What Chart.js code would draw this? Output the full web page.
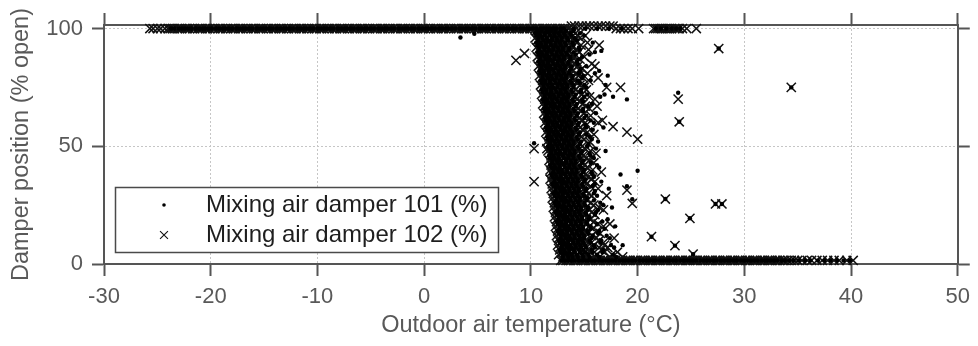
<!DOCTYPE html>
<html>
<head>
<meta charset="utf-8">
<title>Mixing air damper position vs outdoor air temperature</title>
<script src="https://cdn.jsdelivr.net/npm/chart.js@4.4.1/dist/chart.umd.min.js"></script>
<style>
  html, body { margin: 0; padding: 0; background: #fff; }
  #wrap { width: 978px; height: 346px; position: relative; }
</style>
</head>
<body>
<div id="wrap"><canvas id="chart"></canvas></div>
<script>
// ---------------------------------------------------------------------------
// Data: damper position (% open) against outdoor air temperature (°C)
// ---------------------------------------------------------------------------
const SERIES_LABELS = ['Mixing air damper 101 (%)', 'Mixing air damper 102 (%)'];
const X_TICK_RANGE = [-30, 50];
const Y_TICK_VALUES = [0, 50, 100];

// damper positions held for long stretches
const FULLY_OPEN = 100;
const OVER_OPEN = 101;
const MIN_POSITION = 1.5;

// Damper 101 – temperatures while fully open
const open101 = [-23.7,-23.4,-23.0,-22.7,-22.4,-22.1,-21.8,-21.4,-21.1,-20.8,-20.5,-20.2,-19.9,-19.5,-19.2,-18.9,-18.6,-18.3,-18.0,-17.6,-17.3,-17.0,-16.7,-16.4,-16.1,-15.7,-15.4,-15.1,-14.8,-14.5,-14.2,-13.8,-13.5,-13.2,-12.9,-12.6,-12.3,-11.9,-11.6,-11.3,-11.0,-10.7,-10.4,-10.0,-9.7,-9.4,-9.1,-8.8,-8.5,-8.1,-7.8,-7.5,-7.2,-6.9,-6.6,-6.2,-5.9,-5.6,-5.3,-5.0,-4.7,-4.3,-4.0,-3.7,-3.4,-3.1,-2.8,-2.4,-2.1,-1.8,-1.5,-1.2,-0.9,-0.5,-0.2,0.1,0.4,0.7,1.0,1.4,1.7,2.0,2.3,2.6,2.9,3.3,3.6,3.9,4.2,4.5,4.8,5.2,5.5,5.8,6.1,6.4,6.7,7.1,7.4,7.7,8.0,8.3,8.6,9.0,9.3,9.6,9.9,10.2,10.5,10.9,11.2,11.5,11.8,12.1,12.4,12.8,13.1,14.0,15.1,16.2,17.3,18.5,21.7,22.2,22.7,23.2,23.6,24.0];

// Damper 101 – temperatures while at minimum position
const closed101 = [12.9,13.2,13.5,13.8,14.1,14.5,14.8,15.1,15.4,15.7,16.0,16.4,16.7,17.0,17.3,17.6,17.9,18.3,18.6,18.9,19.2,19.5,19.8,20.2,20.5,20.8,21.1,21.4,21.7,22.1,22.4,22.7,23.0,23.3,23.6,24.0,24.3,24.6,24.9,25.2,25.5,25.9,26.2,26.5,26.8,27.1,27.4,27.8,28.1,28.4,28.7,29.0,29.3,29.7,30.0,30.3,30.6,30.9,31.2,31.6,31.9,32.2,32.5,32.8,33.1,33.5,33.8,34.2,34.6,35.1,35.7,36.2,36.9,37.5,38.1,38.7,39.3,39.9];

// Damper 101 – modulating readings, grouped by position: [position, temperatures]
const modulating101 = [
  [99, [10.6,11.0,11.5,11.9,12.3,12.8,13.3,14.0]],
  [98, [10.4,10.8,11.3,11.7,12.2,12.6,13.1,13.7,14.6]],
  [97, [10.5,10.9,11.3,11.8,12.2,12.7,13.2,13.8,15.0]],
  [96, [10.7,11.1,11.5,12.0,12.4,12.9,13.4,14.1]],
  [95, [10.7,11.2,11.6,12.0,12.5,12.9,13.5,14.3]],
  [94, [10.5,10.9,11.4,11.8,12.3,12.7,13.2,13.9,15.8]],
  [93, [10.6,11.0,11.4,11.9,12.3,12.8,13.3,14.0]],
  [92, [10.8,11.2,11.6,12.1,12.5,13.0,13.6,14.5]],
  [91, [10.8,11.3,11.7,12.1,12.6,13.0,13.6,14.6]],
  [90, [10.6,11.0,11.5,11.9,12.4,12.8,13.3,14.0,16.0]],
  [89, [10.7,11.1,11.5,12.0,12.4,12.9,13.4,14.2,15.5]],
  [88, [10.9,11.3,11.7,12.2,12.6,13.1,13.7,14.8]],
  [87, [10.9,11.4,11.8,12.2,12.7,13.1,13.7,14.5]],
  [86, [10.7,11.1,11.6,12.0,12.5,12.9,13.5,14.3]],
  [85, [10.8,11.2,11.6,12.1,12.5,13.0,13.5,14.4]],
  [84, [11.0,11.4,11.8,12.3,12.7,13.2,13.8,15.2]],
  [83, [11.0,11.5,11.9,12.3,12.8,13.2,13.8,14.7]],
  [82, [10.8,11.2,11.7,12.1,12.6,13.0,13.6,14.6,16.4]],
  [81, [10.9,11.3,11.7,12.2,12.6,13.1,13.6,14.5,16.0]],
  [80, [11.1,11.5,11.9,12.4,12.8,13.3,13.9,14.9]],
  [79, [11.1,11.6,12.0,12.4,12.9,13.3,13.9,14.8]],
  [78, [10.9,11.3,11.8,12.2,12.7,13.1,13.7,14.4,15.6]],
  [77, [11.0,11.4,11.8,12.3,12.7,13.2,13.8,14.6]],
  [76, [11.2,11.6,12.0,12.5,12.9,13.4,14.0,15.0,17.0]],
  [75, [11.2,11.7,12.1,12.5,13.0,13.4,14.0,15.2]],
  [74, [11.0,11.4,11.9,12.3,12.8,13.2,13.8,14.7]],
  [73, [11.1,11.5,11.9,12.4,12.8,13.3,13.9,14.7]],
  [72, [11.3,11.7,12.1,12.6,13.0,13.5,14.2,15.3,16.9]],
  [71, [11.3,11.8,12.2,12.6,13.1,13.5,14.1,15.0,16.5]],
  [70, [11.1,11.5,12.0,12.4,12.9,13.3,13.9,14.8]],
  [69, [11.2,11.6,12.0,12.5,12.9,13.4,14.0,14.9]],
  [68, [11.4,11.8,12.2,12.7,13.1,13.6,14.3,15.7]],
  [67, [11.4,11.9,12.3,12.7,13.2,13.6,14.2,15.4]],
  [66, [11.2,11.6,12.1,12.5,13.0,13.4,14.0,14.9]],
  [65, [11.3,11.7,12.1,12.6,13.0,13.5,14.1,14.9]],
  [64, [11.5,11.9,12.3,12.8,13.2,13.7,14.4,16.1]],
  [63, [11.5,12.0,12.4,12.8,13.3,13.7,14.3,15.2]],
  [62, [11.3,11.7,12.2,12.6,13.1,13.5,14.1,15.0]],
  [61, [11.4,11.8,12.2,12.7,13.1,13.6,14.2,15.6]],
  [60, [11.6,12.0,12.4,12.9,13.3,13.8,14.5,15.9]],
  [59, [11.6,12.1,12.5,12.9,13.4,13.8,14.4,15.1]],
  [58, [11.4,11.8,12.3,12.7,13.2,13.6,14.2,15.2,16.8]],
  [57, [11.5,11.9,12.3,12.8,13.2,13.7,14.3,15.8]],
  [56, [11.7,12.1,12.5,13.0,13.4,13.9,14.6]],
  [55, [11.7,12.2,12.6,13.0,13.5,13.9,14.5,15.2]],
  [54, [11.5,11.9,12.4,12.8,13.3,13.7,14.3,15.5]],
  [53, [11.6,12.0,12.4,12.9,13.3,13.8,14.4,15.7]],
  [52, [11.8,12.2,12.6,13.1,13.5,14.0,14.7,16.3]],
  [51, [11.8,12.3,12.7,13.1,13.6,14.0,14.6,15.4]],
  [50, [11.6,12.0,12.5,12.9,13.4,13.8,14.4,15.3]],
  [49, [11.7,12.1,12.5,13.0,13.4,13.9,14.5,16.1]],
  [48, [11.9,12.3,12.7,13.2,13.6,14.1,14.8,17.0]],
  [47, [11.9,12.4,12.8,13.2,13.7,14.1,14.7,15.5]],
  [46, [11.7,12.1,12.6,13.0,13.5,13.9,14.5,15.6]],
  [45, [11.8,12.2,12.6,13.1,13.5,14.0,14.6,15.9]],
  [44, [12.0,12.4,12.8,13.3,13.7,14.2,14.9]],
  [43, [12.0,12.5,12.9,13.3,13.8,14.2,14.8,15.6]],
  [42, [11.8,12.2,12.7,13.1,13.6,14.0,14.6,16.2]],
  [41, [11.9,12.3,12.7,13.2,13.6,14.1,14.7,16.4]],
  [40, [12.1,12.5,12.9,13.4,13.8,14.3,15.0]],
  [39, [12.1,12.6,13.0,13.4,13.9,14.3,14.9,15.7]],
  [38, [11.9,12.3,12.8,13.2,13.7,14.1,14.7,15.8,18.4]],
  [37, [12.0,12.4,12.8,13.3,13.7,14.2,14.8,15.9]],
  [36, [12.2,12.6,13.0,13.5,13.9,14.4,15.1]],
  [35, [12.2,12.7,13.1,13.5,14.0,14.4,15.0,16.6]],
  [34, [12.0,12.4,12.9,13.3,13.8,14.2,14.8,16.0]],
  [33, [12.1,12.5,12.9,13.4,13.8,14.3,14.9,15.8]],
  [32, [12.3,12.7,13.1,13.6,14.0,14.5,15.2,17.3]],
  [31, [12.3,12.8,13.2,13.6,14.1,14.5,15.1,16.0]],
  [30, [12.1,12.5,13.0,13.4,13.9,14.3,14.9,15.9]],
  [29, [12.2,12.6,13.0,13.5,13.9,14.4,15.0,16.2]],
  [28, [12.4,12.8,13.2,13.7,14.1,14.6,15.3]],
  [27, [12.4,12.9,13.3,13.7,14.2,14.6,15.2,15.9]],
  [26, [12.2,12.6,13.1,13.5,14.0,14.4,15.0,16.5]],
  [25, [12.3,12.7,13.1,13.6,14.0,14.5,15.1,16.8]],
  [24, [12.5,12.9,13.3,13.8,14.2,14.7,15.4,17.6]],
  [23, [12.5,13.0,13.4,13.8,14.3,14.7,15.3,16.3]],
  [22, [12.3,12.7,13.2,13.6,14.1,14.5,15.1,16.1]],
  [21, [12.4,12.8,13.2,13.7,14.1,14.6,15.2,16.0]],
  [20, [12.6,13.0,13.4,13.9,14.3,14.8,15.5]],
  [19, [12.6,13.1,13.5,13.9,14.4,14.8,15.4,17.2]],
  [18, [12.4,12.8,13.3,13.7,14.2,14.6,15.2,16.7]],
  [17, [12.5,12.9,13.3,13.8,14.2,14.7,15.3,16.2]],
  [16, [12.7,13.1,13.5,14.0,14.4,14.9,15.6,17.9]],
  [15, [12.7,13.2,13.6,14.0,14.5,14.9,15.6,16.9]],
  [14, [12.5,12.9,13.4,13.8,14.3,14.7,15.3,16.4]],
  [13, [12.6,13.0,13.4,13.9,14.3,14.8,15.4,16.3]],
  [12, [12.8,13.2,13.6,14.1,14.5,15.0,15.8,17.1]],
  [11, [12.8,13.3,13.7,14.1,14.6,15.0,15.7,17.4]],
  [10, [12.6,13.0,13.5,13.9,14.4,14.8,15.5,16.6]],
  [9,  [12.7,13.1,13.5,14.0,14.4,14.9,15.6,16.5]],
  [8,  [12.9,13.3,13.7,14.2,14.6,15.1,15.9,17.5,18.6]],
  [7,  [12.9,13.4,13.8,14.2,14.7,15.2,16.0,17.8]],
  [6,  [12.7,13.1,13.6,14.0,14.5,14.9,15.7,16.8]],
  [5,  [12.8,13.2,13.6,14.1,14.6,15.1,15.8,16.7]],
  [4,  [13.0,13.4,13.8,14.3,14.8,15.4,16.2,17.7]],
  [3,  [13.0,13.5,13.9,14.4,14.9,15.5,16.4,18.0]]
];

// Damper 101 – isolated readings [temperature, position]
const scattered101 = [[3.4,96.2],[4.7,97.8],[16.6,90.5],[17.2,80.0],[17.7,71.0],[19.0,69.9],[23.8,72.7],[10.3,51.3],[20.0,39.6],[19.0,33.0],[19.5,27.5],[27.6,91.5],[34.4,75.0],[23.9,60.4],[22.6,27.6],[27.3,25.5],[27.9,25.5],[24.9,19.4],[21.3,11.6],[23.5,7.8],[25.2,4.2]];

// Damper 102 – temperatures while fully open
const open102 = [-25.7,-25.4,-25.0,-24.7,-24.3,-24.0,-23.8,-23.6,-23.4,-23.1,-22.9,-22.7,-22.4,-22.2,-22.0,-21.7,-21.5,-21.2,-21.0,-20.8,-20.5,-20.3,-20.1,-19.8,-19.6,-19.3,-19.1,-18.9,-18.6,-18.4,-18.1,-17.9,-17.7,-17.4,-17.2,-17.0,-16.7,-16.5,-16.2,-16.0,-15.8,-15.5,-15.3,-15.1,-14.8,-14.6,-14.3,-14.1,-13.9,-13.6,-13.4,-13.2,-12.9,-12.7,-12.4,-12.2,-12.0,-11.7,-11.5,-11.3,-11.0,-10.8,-10.5,-10.3,-10.1,-9.8,-9.6,-9.4,-9.1,-8.9,-8.6,-8.4,-8.2,-7.9,-7.7,-7.5,-7.2,-7.0,-6.7,-6.5,-6.3,-6.0,-5.8,-5.6,-5.3,-5.1,-4.8,-4.6,-4.4,-4.1,-3.9,-3.7,-3.4,-3.2,-2.9,-2.7,-2.5,-2.2,-2.0,-1.8,-1.5,-1.3,-1.0,-0.8,-0.6,-0.3,-0.1,0.1,0.4,0.6,0.9,1.1,1.3,1.6,1.8,2.0,2.3,2.5,2.8,3.0,3.2,3.5,3.7,3.9,4.2,4.4,4.7,4.9,5.1,5.4,5.6,5.8,6.1,6.3,6.6,6.8,7.0,7.3,7.5,7.7,8.0,8.2,8.5,8.7,8.9,9.2,9.4,9.6,9.9,10.1,10.4,10.6,10.8,11.1,11.3,11.5,11.8,12.0,12.3,12.5,12.7,13.0,13.2,13.5,18.0,18.4,18.7,19.1,19.5,20.1,21.5,21.7,21.9,22.1,22.3,22.6,22.8,23.0,23.2,23.5,23.7,23.9,24.2,24.6,25.5];

// Damper 102 – temperatures with a reading just above fully open
const overOpen102 = [13.8,14.1,14.5,14.8,15.2,15.5,15.9,16.3,16.6,17.0,17.4,17.7];

// Damper 102 – temperatures while at minimum position
const closed102 = [12.8,13.0,13.3,13.5,13.7,14.0,14.2,14.4,14.7,14.9,15.1,15.4,15.6,15.8,16.1,16.3,16.5,16.8,17.0,17.2,17.5,17.7,17.9,18.2,18.4,18.6,18.9,19.1,19.3,19.6,19.8,20.0,20.3,20.5,20.7,21.0,21.2,21.4,21.7,21.9,22.1,22.4,22.6,22.8,23.1,23.3,23.5,23.8,24.0,24.2,24.5,24.7,24.9,25.2,25.4,25.6,25.9,26.1,26.3,26.6,26.8,27.0,27.3,27.5,27.7,28.0,28.2,28.4,28.7,28.9,29.1,29.4,29.6,29.8,30.1,30.3,30.5,30.8,31.0,31.2,31.5,31.7,31.9,32.2,32.4,32.6,32.9,33.1,33.3,33.6,33.8,34.1,34.4,34.7,35.0,35.4,35.9,36.3,36.8,37.3,37.8,38.4,38.9,39.6,40.2];

// Damper 102 – modulating readings, grouped by position: [position, temperatures]
const modulating102 = [
  [99, [10.5,11.0,11.6,12.1,12.7,13.2,13.9]],
  [98, [10.7,11.3,11.9,12.4,13.0,13.5,14.2]],
  [97, [10.8,11.3,11.8,12.4,12.9,13.6,14.4,15.1]],
  [96, [10.4,11.0,11.5,12.0,12.6,13.1,13.7,14.6]],
  [95, [10.6,11.2,11.7,12.2,12.8,13.4,14.1]],
  [94, [10.8,11.3,11.9,12.4,13.0,13.6,14.3,15.3]],
  [93, [10.9,11.4,12.0,12.5,13.1,13.8,14.7]],
  [92, [10.5,11.0,11.6,12.1,12.7,13.2,13.9]],
  [91, [10.7,11.2,11.8,12.3,12.9,13.5,14.3,15.4]],
  [90, [10.9,11.4,11.9,12.5,13.0,13.6,14.5]],
  [89, [11.0,11.5,12.1,12.6,13.2,13.9]],
  [88, [10.6,11.1,11.7,12.2,12.8,13.4,14.1,15.0]],
  [87, [10.8,11.3,11.9,12.4,13.0,13.7,14.6]],
  [86, [11.0,11.5,12.0,12.6,13.1,13.8,14.3]],
  [85, [11.1,11.6,12.2,12.7,13.3,14.1,15.7]],
  [84, [10.7,11.3,11.8,12.3,12.9,13.5,14.4,16.0]],
  [83, [10.9,11.5,12.0,12.6,13.1,13.8,14.8]],
  [82, [11.0,11.5,12.1,12.6,13.2,13.9,14.6]],
  [81, [11.2,11.7,12.3,12.8,13.4,14.2,15.3]],
  [80, [10.8,11.4,11.9,12.5,13.0,13.6,14.5]],
  [79, [11.0,11.6,12.1,12.7,13.2,13.9,14.9,16.3]],
  [78, [11.1,11.6,12.2,12.7,13.3,14.0,15.4]],
  [77, [11.3,11.8,12.4,12.9,13.5,14.3]],
  [76, [10.9,11.5,12.0,12.6,13.1,13.7,14.6]],
  [75, [11.1,11.7,12.2,12.8,13.3,14.0,15.0,17.1]],
  [74, [11.2,11.7,12.3,12.8,13.4,14.2,15.2]],
  [73, [11.4,11.9,12.5,13.0,13.6,14.5]],
  [72, [11.0,11.6,12.1,12.7,13.2,13.8,14.8]],
  [71, [11.2,11.8,12.3,12.9,13.4,14.1,15.5]],
  [70, [11.3,11.8,12.4,12.9,13.5,14.3,16.0]],
  [69, [11.5,12.0,12.6,13.1,13.7,14.6]],
  [68, [11.1,11.7,12.2,12.8,13.3,13.9,14.9]],
  [67, [11.3,11.9,12.4,13.0,13.5,14.2,15.1,16.2]],
  [66, [11.4,11.9,12.5,13.0,13.6,14.4,15.5]],
  [65, [11.6,12.1,12.7,13.2,13.8,14.7]],
  [64, [11.2,11.8,12.3,12.9,13.4,14.0,15.0]],
  [63, [11.4,12.0,12.5,13.1,13.6,14.3,15.6]],
  [62, [11.5,12.0,12.6,13.1,13.7,14.5]],
  [61, [11.7,12.2,12.8,13.3,13.9,14.8,16.7]],
  [60, [11.3,11.9,12.4,13.0,13.5,14.1,15.1,16.3]],
  [59, [11.5,12.1,12.6,13.2,13.7,14.4,15.2]],
  [58, [11.6,12.1,12.7,13.2,13.8,14.6]],
  [57, [11.8,12.3,12.9,13.4,14.0,14.9]],
  [56, [11.4,12.0,12.5,13.1,13.6,14.2,15.3]],
  [55, [11.6,12.2,12.7,13.3,13.8,14.5,15.9]],
  [54, [11.7,12.2,12.8,13.3,13.9,14.7]],
  [53, [11.9,12.4,13.0,13.5,14.1,15.0]],
  [52, [11.5,12.1,12.6,13.2,13.7,14.3,15.5]],
  [51, [11.7,12.3,12.8,13.4,13.9,14.6,15.4]],
  [50, [11.8,12.3,12.9,13.4,14.0,14.8]],
  [49, [11.5,12.0,12.6,13.1,13.7,14.3,15.1]],
  [48, [11.6,12.2,12.7,13.3,13.8,14.4,15.6]],
  [47, [11.8,12.4,12.9,13.5,14.0,14.8,16.1]],
  [46, [11.9,12.4,13.0,13.5,14.1,14.9]],
  [45, [12.0,12.5,13.1,13.6,14.3,15.2]],
  [44, [11.7,12.2,12.8,13.3,13.9,14.6,15.5]],
  [43, [11.9,12.4,13.0,13.5,14.1,14.9,15.9]],
  [42, [11.9,12.5,13.0,13.6,14.2,15.0]],
  [41, [12.1,12.6,13.2,13.7,14.4,15.3]],
  [40, [11.8,12.3,12.9,13.4,14.0,14.7,15.8]],
  [39, [11.9,12.5,13.0,13.6,14.2,15.0,16.6]],
  [38, [12.0,12.5,13.1,13.6,14.3,15.1]],
  [37, [12.2,12.7,13.3,13.8,14.5,15.4]],
  [36, [11.8,12.4,12.9,13.5,14.1,14.8,15.7]],
  [35, [12.0,12.6,13.1,13.7,14.3,15.1,16.0]],
  [34, [12.0,12.6,13.1,13.7,14.4,15.2]],
  [33, [12.2,12.8,13.3,13.9,14.6,15.6]],
  [32, [11.9,12.5,13.0,13.6,14.2,15.0,16.3]],
  [31, [12.1,12.6,13.2,13.7,14.4,15.2]],
  [30, [12.1,12.7,13.2,13.8,14.5,15.4]],
  [29, [12.3,12.9,13.4,14.0,14.7,15.7,17.1]],
  [28, [12.0,12.5,13.1,13.6,14.3,15.1]],
  [27, [12.2,12.7,13.3,13.8,14.5,15.3]],
  [26, [12.2,12.7,13.3,13.9,14.6,15.6]],
  [25, [12.4,12.9,13.5,14.1,14.8,15.9]],
  [24, [12.1,12.6,13.2,13.7,14.4,15.2,16.4]],
  [23, [12.3,12.8,13.4,13.9,14.6,15.5,16.8]],
  [22, [12.3,12.8,13.4,14.0,14.7,15.7]],
  [21, [12.5,13.0,13.6,14.2,14.9,16.0]],
  [20, [12.2,12.7,13.3,13.8,14.5,15.3]],
  [19, [12.4,12.9,13.5,14.0,14.7,15.6]],
  [18, [12.4,12.9,13.5,14.1,14.9,15.9]],
  [17, [12.6,13.1,13.7,14.3,15.1,16.3,17.4]],
  [16, [12.3,12.8,13.4,14.0,14.6,15.5,16.8]],
  [15, [12.5,13.0,13.6,14.1,14.8,15.8]],
  [14, [12.5,13.0,13.6,14.2,15.0,16.2]],
  [13, [12.7,13.2,13.8,14.4,15.2,16.5]],
  [12, [12.4,12.9,13.5,14.1,14.8,15.7]],
  [11, [12.6,13.1,13.7,14.2,15.0,16.1,17.8]],
  [10, [12.6,13.1,13.7,14.3,15.1,16.4]],
  [9,  [12.8,13.3,13.9,14.5,15.4,16.8]],
  [8,  [12.5,13.0,13.6,14.2,14.9,15.9,16.9]],
  [7,  [12.7,13.2,13.8,14.4,15.2,16.4,17.2]],
  [6,  [12.7,13.2,13.8,14.4,15.3,16.6]],
  [5,  [12.9,13.4,14.0,14.7,15.6,16.9,18.1]],
  [4,  [12.6,13.1,13.7,14.4,15.1,16.2,17.6]],
  [3,  [13.0,13.5,14.2,15.0,16.0,17.4,18.6]]
];

// Damper 102 – isolated readings [temperature, position]
const scattered102 = [[8.6,86.5],[9.4,89.4],[10.3,49.0],[10.3,35.0],[16.4,93.0],[18.4,75.0],[17.7,58.3],[19.0,56.0],[20.0,53.0],[19.0,31.4],[19.5,25.7],[22.6,27.6],[27.3,25.5],[27.9,25.5],[24.9,19.4],[21.3,11.6],[23.5,7.8],[25.2,4.2],[23.8,70.0],[23.9,60.4],[27.6,91.5],[34.4,75.0]];

// ---------------------------------------------------------------------------
// Assemble point lists
// ---------------------------------------------------------------------------
const atPosition = (temps, pos) => temps.map(t => ({ x: t, y: pos }));
const fromGroups = groups => groups.flatMap(([pos, temps]) => temps.map(t => ({ x: t, y: pos })));
const fromPairs = pairs => pairs.map(([t, pos]) => ({ x: t, y: pos }));

const points101 = [
  ...atPosition(open101, FULLY_OPEN),
  ...fromGroups(modulating101),
  ...atPosition(closed101, MIN_POSITION),
  ...fromPairs(scattered101)
];
const points102 = [
  ...atPosition(open102, FULLY_OPEN),
  ...atPosition(overOpen102, OVER_OPEN),
  ...fromGroups(modulating102),
  ...atPosition(closed102, MIN_POSITION),
  ...fromPairs(scattered102)
];

// ---------------------------------------------------------------------------
// Styling
// ---------------------------------------------------------------------------
const FONT = '"Liberation Sans", Arial, Helvetica, sans-serif';
const AXIS_COLOR = '#555555';
const TEXT_COLOR = '#595959';
const GRID_COLOR = '#c6c6c6';
const TICK_LEN = 12;

const Y_MAX = 101.5;

const frameGrid = (onArea) => ({
  drawOnChartArea: onArea,
  color: GRID_COLOR,
  lineWidth: 1,
  tickLength: TICK_LEN,
  tickColor: AXIS_COLOR,
  tickWidth: 2
});
const frameBorder = { color: AXIS_COLOR, width: 2, dash: [2, 2] };
const fixedYTicks = s => { s.ticks = Y_TICK_VALUES.map(v => ({ value: v })); };

// Legend drawn inside the plot area, lower left
const boxLegend = {
  id: 'boxLegend',
  afterDraw(chart) {
    const { ctx, chartArea } = chart;
    const left = chartArea.left + 11;
    const bottom = chartArea.bottom - 12;
    const w = 383, h = 65;
    const top = bottom - h;
    ctx.save();
    ctx.fillStyle = '#ffffff';
    ctx.fillRect(left, top, w, h);
    ctx.strokeStyle = '#4a4a4a';
    ctx.lineWidth = 1.5;
    ctx.strokeRect(left + 0.5, top + 0.5, w, h);
    chart.data.datasets.forEach((ds, i) => {
      const cy = top + 18 + i * 30;
      const cx = left + 49;
      ctx.fillStyle = '#000';
      ctx.strokeStyle = '#111';
      if (ds.pointStyle === 'circle') {
        ctx.beginPath();
        ctx.arc(cx, cy, 1.8, 0, Math.PI * 2);
        ctx.fill();
      } else {
        const d = 5.6 * Math.SQRT1_2;
        ctx.lineWidth = 1.1;
        ctx.beginPath();
        ctx.moveTo(cx - d, cy - d); ctx.lineTo(cx + d, cy + d);
        ctx.moveTo(cx + d, cy - d); ctx.lineTo(cx - d, cy + d);
        ctx.stroke();
      }
      ctx.fillStyle = '#1e1e1e';
      ctx.font = '24px ' + FONT;
      ctx.textBaseline = 'middle';
      ctx.textAlign = 'left';
      ctx.fillText(ds.label, left + 91, cy);
    });
    ctx.restore();
  }
};

new Chart(document.getElementById('chart'), {
  type: 'scatter',
  data: {
    datasets: [
      {
        label: SERIES_LABELS[0],
        data: points101,
        xAxisID: 'x', yAxisID: 'y',
        pointStyle: 'circle',
        pointRadius: 2.2,
        pointHoverRadius: 2.2,
        pointBackgroundColor: '#000',
        pointBorderWidth: 0,
        showLine: false,
        clip: false
      },
      {
        label: SERIES_LABELS[1],
        data: points102,
        xAxisID: 'x', yAxisID: 'y',
        pointStyle: 'crossRot',
        pointRadius: 6.5,
        pointHoverRadius: 6.5,
        pointBorderColor: '#111',
        pointBackgroundColor: 'rgba(0,0,0,0)',
        pointBorderWidth: 1.5,
        showLine: false,
        clip: false
      }
    ]
  },
  options: {
    responsive: true,
    maintainAspectRatio: false,
    devicePixelRatio: 1,
    animation: false,
    events: [],
    layout: { padding: 0 },
    plugins: {
      legend: { display: false },
      tooltip: { enabled: false }
    },
    scales: {
      x: {
        type: 'linear', position: 'bottom',
        min: X_TICK_RANGE[0], max: X_TICK_RANGE[1],
        ticks: { stepSize: 10, autoSkip: false, maxRotation: 0, padding: 8, color: TEXT_COLOR, font: { family: FONT, size: 22 } },
        grid: frameGrid(true),
        border: frameBorder,
        title: { display: true, text: 'Outdoor air temperature (°C)', color: TEXT_COLOR, font: { family: FONT, size: 23.5 }, padding: { top: 0, bottom: 6 } },
        afterFit: s => { s.height = 82; }
      },
      y: {
        type: 'linear', position: 'left',
        min: Y_TICK_VALUES[0], max: Y_MAX,
        ticks: { padding: 9, color: TEXT_COLOR, font: { family: FONT, size: 22 } },
        afterBuildTicks: fixedYTicks,
        grid: frameGrid(true),
        border: frameBorder,
        title: { display: true, text: 'Damper position (% open)', color: TEXT_COLOR, font: { family: FONT, size: 23.5 }, padding: { top: 7, bottom: 0 } },
        afterFit: s => { s.width = 104; }
      },
      x2: {
        type: 'linear', position: 'top',
        min: X_TICK_RANGE[0], max: X_TICK_RANGE[1],
        ticks: { display: false, stepSize: 10 },
        grid: frameGrid(false),
        border: frameBorder,
        afterFit: s => { s.height = 25; }
      },
      y2: {
        type: 'linear', position: 'right',
        min: Y_TICK_VALUES[0], max: Y_MAX,
        ticks: { display: false },
        afterBuildTicks: fixedYTicks,
        grid: frameGrid(false),
        border: frameBorder,
        afterFit: s => { s.width = 16; }
      }
    }
  },
  plugins: [boxLegend]
});
</script>
</body>
</html>
